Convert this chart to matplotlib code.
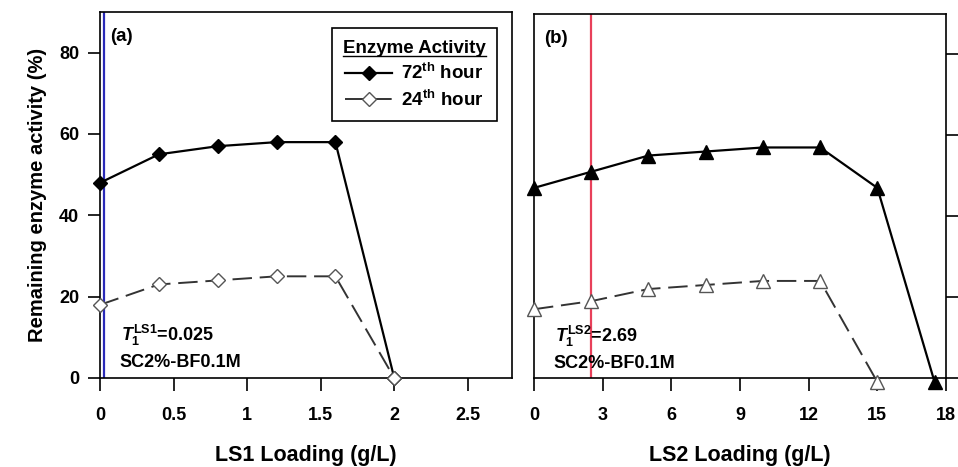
import matplotlib
matplotlib.use("Agg")
import matplotlib.pyplot as plt
from matplotlib.lines import Line2D

plt.rcParams["font.family"] = ["Liberation Sans", "DejaVu Sans"]
plt.rcParams["font.weight"] = "bold"
plt.rcParams["axes.labelweight"] = "bold"
plt.rcParams["mathtext.fontset"] = "custom"
plt.rcParams["mathtext.rm"] = "Liberation Sans:bold"
plt.rcParams["mathtext.bf"] = "Liberation Sans:bold"
plt.rcParams["mathtext.it"] = "Liberation Sans:italic:bold"

# panel (a): LS1
ls1_load = [0, 0.4, 0.8, 1.2, 1.6, 2.0]
ls1_72h = [48, 55, 57, 58, 58, 0]
ls1_24h = [18, 23, 24, 25, 25, 0]
ls1_t1 = 0.025

# panel (b): LS2
ls2_load = [0, 2.5, 5, 7.5, 10, 12.5, 15, 17.5]
ls2_72h = [47, 51, 55, 56, 57, 57, 47, -1]
ls2_24h = [17, 19, 22, 23, 24, 24, -1]
ls2_t1_line = 2.5

xt_a = [0, 0.5, 1, 1.5, 2, 2.5]
xt_a_lbl = ["0", "0.5", "1", "1.5", "2", "2.5"]
xt_b = [0, 3, 6, 9, 12, 15, 18]
yt = [0, 20, 40, 60, 80]

fig = plt.figure(figsize=(9.58, 4.67), dpi=100)
ax1 = fig.add_axes([0.1044, 0.1906, 0.430, 0.7837])
ax2 = fig.add_axes([0.5574, 0.1906, 0.4301, 0.7794])

dash = (0, (10, 4))
for ax in (ax1, ax2):
    for s in ax.spines.values():
        s.set_linewidth(1.2)
    ax.set_ylim(0, 90)
    ax.set_yticks(yt)
    ax.tick_params(direction="out", length=9, width=1.2, labelsize=13)
    ax.tick_params(axis="x", pad=12)
    ax.tick_params(axis="y", pad=6)

# (a)
ax1.axvline(ls1_t1, color="#2a2ab8", lw=1.6, zorder=1)
ax1.plot(ls1_load, ls1_72h, "-", color="black", lw=1.6, marker="D",
         ms=6.8, mfc="black", mec="black", clip_on=False, label=r"72$^{\mathrm{th}}$ hour", zorder=3)
ax1.plot(ls1_load, ls1_24h, color="#333333", lw=1.4, ls=dash, marker="D",
         ms=6.8, mfc="white", mec="#555555", clip_on=False, label=r"24$^{\mathrm{th}}$ hour", zorder=3)
ax1.set_xlim(0, 2.8)
ax1.set_xticks(xt_a)
ax1.set_xticklabels(xt_a_lbl)
ax1.set_xlabel("LS1 Loading (g/L)", fontsize=15.5, labelpad=15)
ax1.set_ylabel("Remaining enzyme activity (%)", fontsize=14.5, labelpad=9)
ax1.text(0.025, 0.955, "(a)", transform=ax1.transAxes, fontsize=13.5, va="top")
ax1.text(0.05, 0.115, r"$T_1^{\mathrm{LS1}}$=0.025", transform=ax1.transAxes, fontsize=13, va="center")
ax1.text(0.048, 0.041, "SC2%-BF0.1M", transform=ax1.transAxes, fontsize=13, va="center")
leg = ax1.legend(loc="upper right", bbox_to_anchor=(0.964, 0.955), fontsize=13.5,
                 title="Enzyme Activity", title_fontsize=13.5,
                 fancybox=False, edgecolor="black", framealpha=1, handlelength=2.5,
                 handletextpad=0.5, borderpad=0.6, labelspacing=0.35, borderaxespad=0)
leg.get_frame().set_linewidth(1.2)

# (b)
ax2.axvline(ls2_t1_line, color="#e8405a", lw=1.6, zorder=1)
ax2.plot(ls2_load, ls2_72h, "-", color="black", lw=1.6, marker="^",
         ms=10.5, mfc="black", mec="black", clip_on=False, zorder=3)
ax2.plot(ls2_load[:len(ls2_24h)], ls2_24h, color="#333333", lw=1.4, ls=dash, marker="^",
         ms=10.5, mfc="white", mec="#555555", clip_on=False, zorder=3)
ax2.set_xlim(0, 18)
ax2.set_xticks(xt_b)
ax2.set_xlabel("LS2 Loading (g/L)", fontsize=15.5, labelpad=15)
ax2.yaxis.tick_right()
ax2.tick_params(axis="y", labelright=False)
ax2.text(0.025, 0.955, "(b)", transform=ax2.transAxes, fontsize=13.5, va="top")
ax2.text(0.05, 0.115, r"$T_1^{\mathrm{LS2}}$=2.69", transform=ax2.transAxes, fontsize=13, va="center")
ax2.text(0.048, 0.041, "SC2%-BF0.1M", transform=ax2.transAxes, fontsize=13, va="center")

# underline the legend title
fig.canvas.draw()
bb = leg.get_title().get_window_extent()
(x0, y0), (x1, _) = fig.transFigure.inverted().transform([(bb.x0, bb.y0 + 1), (bb.x1, bb.y0)])
fig.add_artist(Line2D([x0, x1], [y0, y0], transform=fig.transFigure, color="black", lw=1))

fig.savefig("out.png", dpi=100)
